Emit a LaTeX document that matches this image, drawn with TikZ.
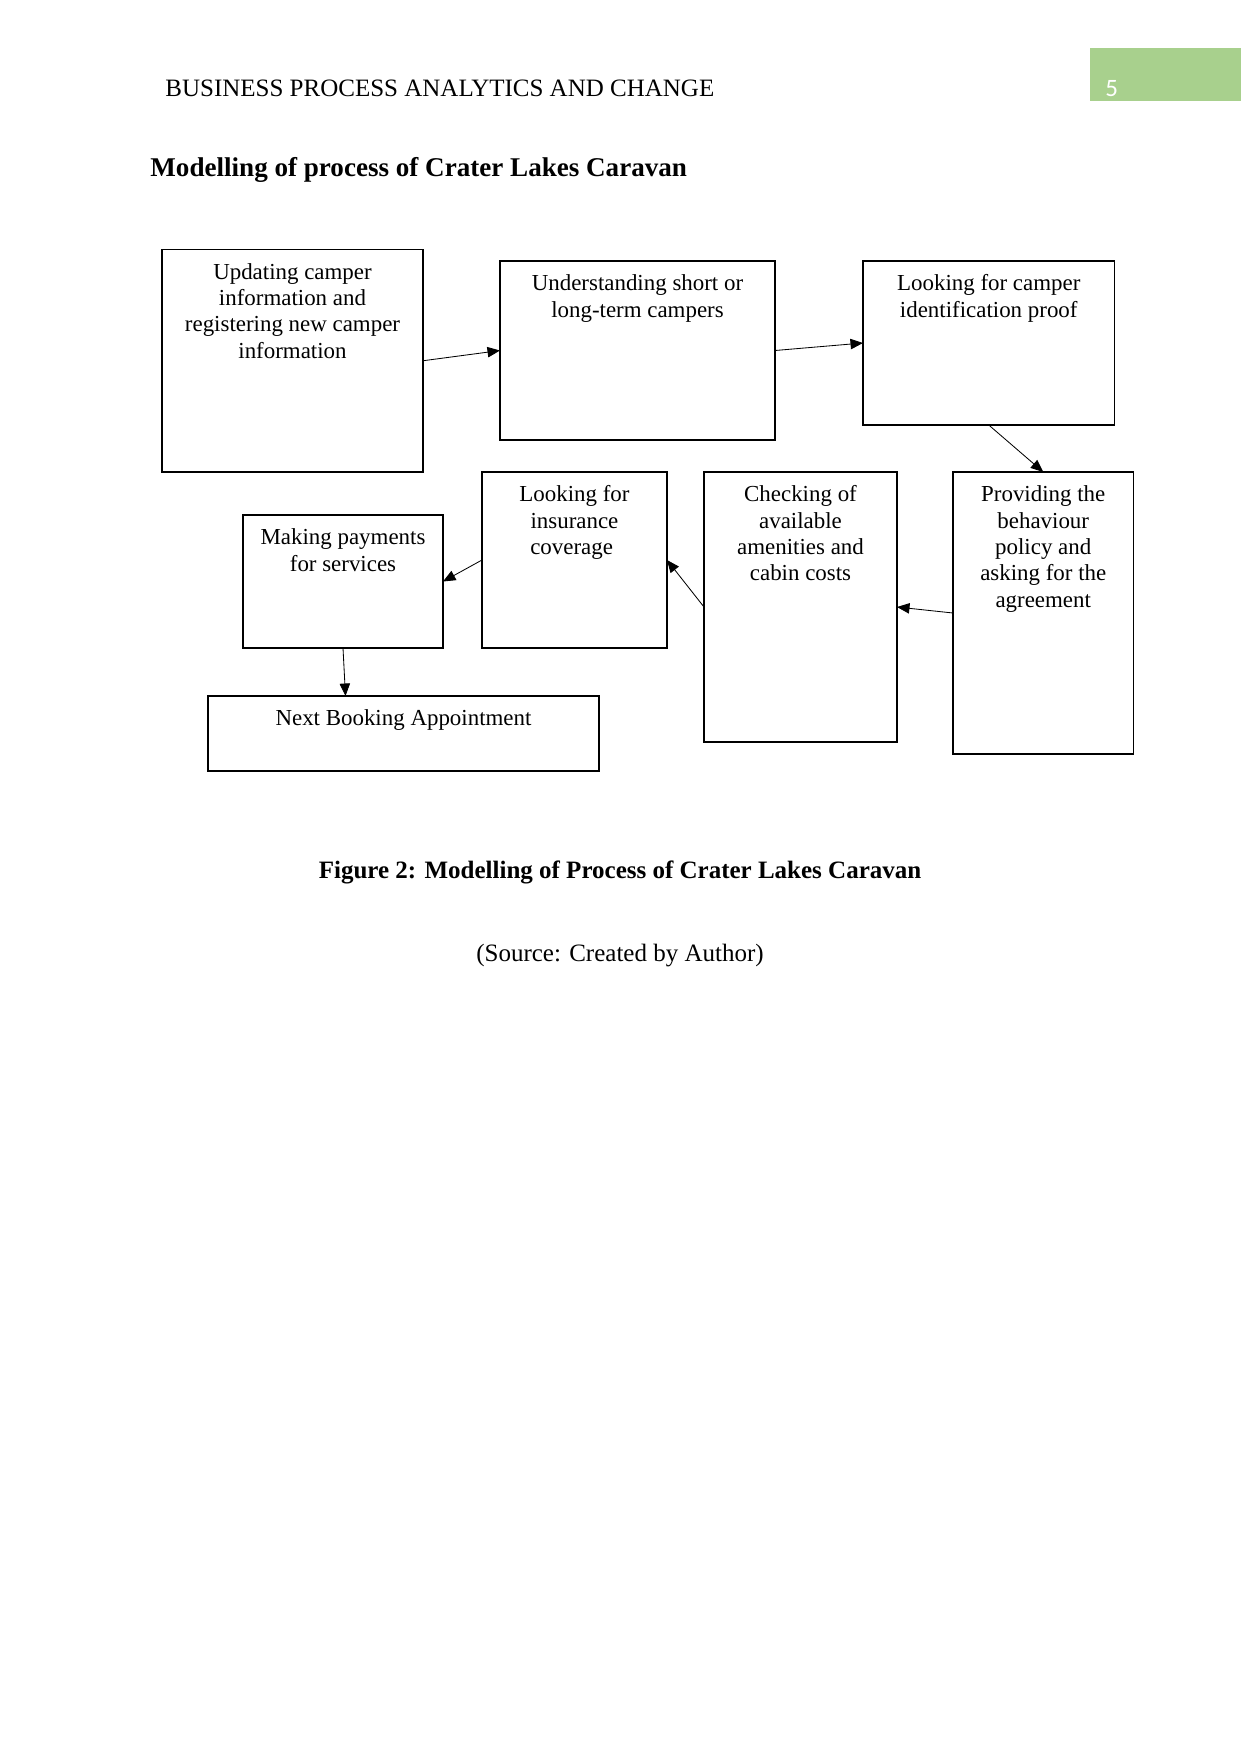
\documentclass[tikz,border=0pt]{standalone}
\usepackage{fontspec}
\setmainfont{Liberation Serif}
\newfontfamily\pagenumfont{Carlito}
\usetikzlibrary{arrows.meta,fit}
\definecolor{hdrgreen}{HTML}{A8D08D}
\begin{document}
\begin{tikzpicture}[x=0.48pt,y=-0.48pt,
  box/.style={draw,line width=0.55pt,inner sep=0pt,outer sep=0pt},
  boxtext/.style={anchor=north,align=center,inner sep=0pt,font=\fontsize{11}{12.65}\selectfont},
  flow/.style={-{Triangle[length=6pt,width=5pt]},line width=0.4pt},
  plain/.style={inner sep=0pt,font=\fontsize{12}{14}\selectfont}]
\useasboundingbox (0,0) rectangle (1241,1754);

% header
\fill[hdrgreen] (1090,48) rectangle (1241,101);
\node[plain,anchor=base west,text=white,font=\pagenumfont\fontsize{12}{14}\selectfont] (pn) at (1105,96) {5};
\node[plain,anchor=base west] (hdr) at (165,96) {BUSINESS PROCESS ANALYTICS AND CHANGE};
\node[plain,anchor=base west,font=\fontsize{13}{15}\selectfont\bfseries] (title) at (150,176) {Modelling of process of Crater Lakes Caravan};

% boxes
\node[box,fit={(162,249.5)(423,472)}] (A) {};
\node[box,fit={(500,261)(775,440)}] (B) {};
\node[box,fit={(863,261)(1114.5,425)}] (C) {};
\node[box,fit={(953,472)(1133.5,754)}] (D) {};
\node[box,fit={(704,472)(897,742)}] (E) {};
\node[box,fit={(482,472)(667,648)}] (F) {};
\node[box,fit={(243,515)(443,648)}] (G) {};
\node[box,fit={(208,696)(599,771)}] (H) {};

% texts
\node[boxtext] (At) at ([yshift=-6.4pt]A.north) {Updating camper\\information and\\registering new camper\\information};
\node[boxtext] (Bt) at ([yshift=-6.4pt]B.north) {Understanding short or\\long-term campers};
\node[boxtext] (Ct) at ([yshift=-6.4pt]C.north) {Looking for camper\\identification proof};
\node[boxtext] (Dt) at ([yshift=-6.4pt]D.north) {Providing the\\behaviour\\policy and\\asking for the\\agreement};
\node[boxtext] (Et) at ([yshift=-6.4pt]E.north) {Checking of\\available\\amenities and\\cabin costs};
\node[boxtext] (Ft) at ([yshift=-6.4pt]F.north) {Looking for\\insurance\\coverage\hspace*{2.75pt}};
\node[boxtext] (Gt) at ([yshift=-6.4pt]G.north) {Making payments\\for services};
\node[boxtext] (Ht) at ([yshift=-6.4pt]H.north) {Next Booking Appointment};

% connectors
\draw[flow] (A.east) -- (B.west);
\draw[flow] (B.east) -- (C.west);
\draw[flow] (C.south) -- (D.north);
\draw[flow] (D.west) -- (E.east);
\draw[flow] (E.west) -- (F.east);
\draw[flow] (F.west) -- (G.east);
\draw[flow] (G.south) -- ([xshift=1.2pt]G.south |- H.north);

% caption
\node[plain,anchor=base,font=\fontsize{12}{14}\selectfont\bfseries] (cap) at (620,878) {Figure 2: Modelling of Process of Crater Lakes Caravan};
\node[plain,anchor=base] (src) at (620,961) {(Source: Created by Author)};
\end{tikzpicture}
\end{document}
